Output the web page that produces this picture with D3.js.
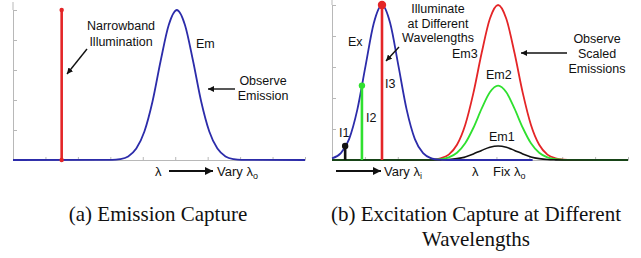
<!DOCTYPE html>
<html>
<head>
<meta charset="utf-8">
<script src="https://cdn.jsdelivr.net/npm/d3@7"></script>
<style>
  html, body { margin: 0; padding: 0; background: #fff; }
  svg { display: block; }
  .lbl { font-family: "Liberation Sans", Arial, sans-serif; font-size: 12.5px; fill: #111; }
  .cap { font-family: "Liberation Serif", "Times New Roman", serif; font-size: 21px; fill: #111; }
</style>
</head>
<body>
<svg id="chart" width="641" height="258"></svg>
<script>
// ---------------- data ----------------
const xTickVals = [0, 1, 2, 3, 4, 5, 6, 7, 8, 9];
const yTickVals = [0, 0.2, 0.4, 0.6, 0.8, 1.0];

// (a) emission spectrum
const emX = [0, 3.05, 3.3, 3.55, 3.8, 4.05, 4.3, 4.55, 4.8, 5.05, 5.3, 5.55, 5.8, 6.05, 6.3, 6.55, 6.8, 7.05, 9];
const emY = [0, 0.001, 0.006, 0.024, 0.076, 0.19, 0.39, 0.66, 0.90, 1.0, 0.90, 0.66, 0.39, 0.19, 0.076, 0.024, 0.006, 0.001, 0];
const narrowX = 1.5, narrowTop = 1.0;

// (b) excitation spectrum
const exX = [0, 0.27, 0.52, 0.77, 1.02, 1.27, 1.52, 1.77, 2.02, 2.27, 2.52, 2.77, 3.02, 3.27, 3.52, 6.1];
const exY = [0.011, 0.044, 0.135, 0.325, 0.607, 0.882, 1.0, 0.882, 0.607, 0.325, 0.135, 0.044, 0.011, 0.002, 0, 0];

// (b) scaled emissions
const emsX  = [0, 2.8, 3.05, 3.3, 3.55, 3.8, 4.05, 4.3, 4.55, 4.8, 5.05, 5.3, 5.55, 5.8, 6.05, 6.3, 6.55, 6.8, 7.05, 7.3, 9];
const em3Y  = [0, 0.0005, 0.0026, 0.0106, 0.035, 0.098, 0.226, 0.433, 0.69, 0.911, 1.0, 0.911, 0.69, 0.433, 0.226, 0.098, 0.035, 0.0106, 0.0026, 0.0005, 0];
const em2Y  = [0, 0.0002, 0.0012, 0.005, 0.017, 0.047, 0.108, 0.208, 0.331, 0.437, 0.48, 0.437, 0.331, 0.208, 0.108, 0.047, 0.017, 0.005, 0.0012, 0.0002, 0];
const em1Y  = [0, 0, 0.0002, 0.001, 0.003, 0.009, 0.020, 0.039, 0.062, 0.082, 0.09, 0.082, 0.062, 0.039, 0.020, 0.009, 0.003, 0.001, 0.0002, 0, 0];

// illumination wavelengths in (b)
const illumNames = ["I1", "I2", "I3"];
const illumX = [0.4, 0.91, 1.52];
const illumY = [0.09, 0.48, 1.0];
const illumColors = ["#111111", "#2fe02f", "#e42527"];

const BLUE = "#2c2caa", RED = "#e42527", GREEN = "#2fe02f", BLACK = "#111111", GREY = "#b8b8b8";

// ---------------- drawing ----------------
const svg = d3.select("#chart");
const defs = svg.append("defs");
function marker(id, w, h) {
  defs.append("marker").attr("id", id).attr("viewBox", `0 0 ${w} ${h}`)
    .attr("refX", w).attr("refY", h / 2).attr("markerUnits", "userSpaceOnUse")
    .attr("markerWidth", w).attr("markerHeight", h).attr("orient", "auto")
    .append("path").attr("d", `M0,0L${w},${h/2}L0,${h}Z`).attr("fill", "#111");
}
marker("ah", 6, 6);
marker("ahBig", 8, 8);

function arrow(x1, y1, x2, y2, big) {
  svg.append("line").attr("x1", x1).attr("y1", y1).attr("x2", x2).attr("y2", y2)
    .attr("stroke", "#111").attr("stroke-width", big ? 2.2 : 1.4)
    .attr("marker-end", big ? "url(#ahBig)" : "url(#ah)");
}
function text(x, y, s, color, anchor) {
  return svg.append("text").attr("class", "lbl").attr("x", x).attr("y", y)
    .attr("fill", color || "#111").attr("text-anchor", anchor || "start").text(s);
}
function lambdaLabel(x, y, prefix, sub) {
  const t = svg.append("text").attr("class", "lbl").attr("x", x).attr("y", y).style("font-size", "13px");
  t.append("tspan").text(prefix + "λ");
  t.append("tspan").attr("dy", 3).style("font-size", "9px").text(sub);
}

function panel(x, y, yTop) {
  svg.append("g").attr("transform", `translate(0,${y.range()[0]})`)
    .call(d3.axisTop(x).tickValues(xTickVals).tickSize(3).tickSizeOuter(0).tickFormat(""))
    .call(g => g.selectAll("line,path").attr("stroke", GREY));
  svg.append("g").attr("transform", `translate(${x.range()[0]},0)`)
    .call(d3.axisRight(y).tickValues(yTickVals).tickSize(4).tickSizeOuter(0).tickFormat(""))
    .call(g => g.selectAll("line,path").attr("stroke", GREY));
  svg.append("line").attr("x1", x.range()[0]).attr("x2", x.range()[0])
    .attr("y1", y.range()[1]).attr("y2", yTop).attr("stroke", GREY);
}

function curve(x, y, xs, ys, color, w) {
  const line = d3.line().x((d, i) => x(xs[i])).y(d => y(d)).curve(d3.curveMonotoneX);
  svg.append("path").attr("d", line(ys)).attr("fill", "none")
    .attr("stroke", color).attr("stroke-width", w || 1.8);
}

// ---- (a) ----
const xL = d3.scaleLinear().domain([0, 9]).range([13, 305]);
const yL = d3.scaleLinear().domain([0, 1]).range([160, 10]);
panel(xL, yL, 2);
curve(xL, yL, emX, emY, BLUE, 1.8);
svg.append("line").attr("x1", xL(narrowX)).attr("x2", xL(narrowX))
  .attr("y1", yL(0)).attr("y2", yL(narrowTop)).attr("stroke", RED).attr("stroke-width", 2.6);
svg.selectAll(".nbdot").data([0, narrowTop]).join("circle")
  .attr("cx", xL(narrowX)).attr("cy", d => yL(d)).attr("r", 2.2).attr("fill", RED);

text(121, 30, "Narrowband", null, "middle");
text(121, 46, "Illumination", null, "middle");
arrow(87, 49, 67, 74);
text(196, 48, "Em");
text(263, 85, "Observe", null, "middle");
text(263, 100, "Emission", null, "middle");
arrow(235, 89, 208, 89);
text(155, 176, "λ").style("font-size", "13px");
arrow(169, 171, 213, 171, true);
lambdaLabel(217, 176, "Vary ", "o");

// ---- (b) ----
const xR = d3.scaleLinear().domain([0, 9]).range([332, 628]);
const yR = d3.scaleLinear().domain([0, 1]).range([160, 5]);
panel(xR, yR, 0);
curve(xR, yR, emsX, em3Y, RED, 1.8);
curve(xR, yR, emsX, em2Y, GREEN, 1.8);
curve(xR, yR, emsX, em1Y, BLACK, 1.6);
curve(xR, yR, exX, exY, BLUE, 1.8);

svg.selectAll(".illum").data(illumX).join("line")
  .attr("x1", d => xR(d)).attr("x2", d => xR(d))
  .attr("y1", yR(0)).attr("y2", (d, i) => yR(illumY[i]))
  .attr("stroke", (d, i) => illumColors[i]).attr("stroke-width", 2.6);
svg.selectAll(".illumdot").data(illumX).join("circle")
  .attr("cx", d => xR(d)).attr("cy", (d, i) => yR(illumY[i]))
  .attr("r", (d, i) => i === 2 ? 4.2 : 3.2)
  .attr("fill", (d, i) => illumColors[i]);

text(339, 137, illumNames[0], BLACK);
text(366, 122, illumNames[1], GREEN);
text(385, 88, illumNames[2], RED);
text(348, 46, "Ex");
text(438, 13, "Illuminate", null, "middle");
text(438, 28, "at Different", null, "middle");
text(438, 42, "Wavelengths", null, "middle");
arrow(399, 47, 386, 61);
text(452, 58, "Em3", RED);
text(486, 79, "Em2", GREEN);
text(489, 141, "Em1", BLACK);
text(597, 43, "Observe", null, "middle");
text(597, 58, "Scaled", null, "middle");
text(597, 73, "Emissions", null, "middle");
arrow(567, 53, 521, 53);
arrow(336, 171, 381, 171, true);
lambdaLabel(384, 176, "Vary ", "i");
text(472, 176, "λ").style("font-size", "13px");
lambdaLabel(493, 176, "Fix ", "o");

// ---- captions ----
svg.append("text").attr("class", "cap").attr("x", 158).attr("y", 221).attr("text-anchor", "middle").text("(a) Emission Capture");
svg.append("text").attr("class", "cap").attr("x", 476).attr("y", 221).attr("text-anchor", "middle").text("(b) Excitation Capture at Different");
svg.append("text").attr("class", "cap").attr("x", 476).attr("y", 246).attr("text-anchor", "middle").text("Wavelengths");
</script>
</body>
</html>
